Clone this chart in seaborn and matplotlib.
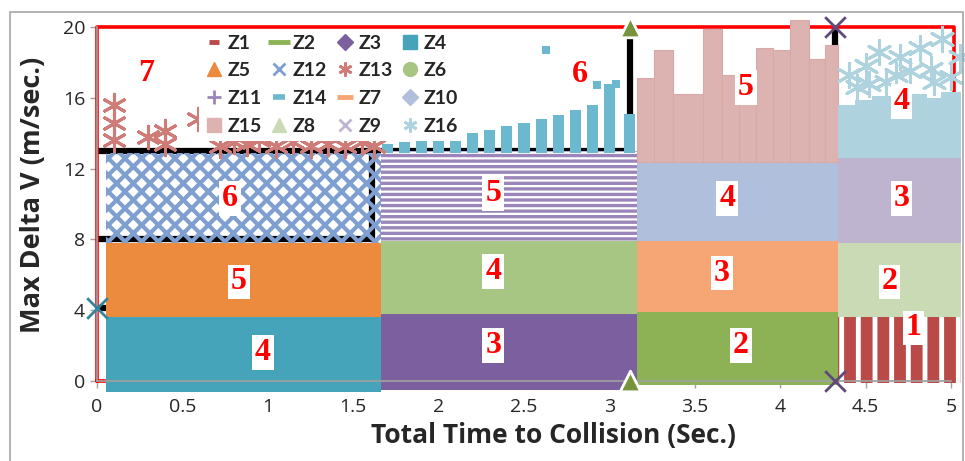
import matplotlib
matplotlib.use("Agg")
import matplotlib.pyplot as plt
from matplotlib.lines import Line2D
from matplotlib.patches import Rectangle
import pandas as pd
import seaborn as sns

# rectangular zones of markers (x from/to, y from/to)
zone_names = ["Z4", "Z5", "Z12", "Z3", "Z6", "Z11", "Z2", "Z7", "Z10", "Z1", "Z8", "Z9"]
zone_x0 = [0.05, 0.05, 0.05, 1.66, 1.66, 1.66, 3.16, 3.16, 3.16, 4.34, 4.34, 4.34]
zone_x1 = [1.66, 1.66, 1.66, 3.16, 3.16, 3.16, 4.34, 4.34, 4.34, 5.06, 5.06, 5.06]
zone_y0 = [-0.6, 3.6, 7.8, -0.5, 3.8, 7.9, -0.2, 3.9, 7.9, -0.1, 3.6, 7.8]
zone_y1 = [3.6, 7.8, 12.9, 3.8, 7.9, 13.0, 3.9, 7.9, 12.4, 3.6, 7.8, 12.6]

# uneven top zones: column left edge and top value
z15_left = [3.16, 3.26, 3.37, 3.55, 3.66, 3.76, 3.86, 3.96, 4.06, 4.17, 4.26]
z15_top = [17.1, 18.7, 16.2, 19.9, 17.3, 17.3, 18.8, 18.7, 20.4, 18.2, 19.0]
z14_x = [1.70, 1.80, 1.90, 2.00, 2.10, 2.20, 2.30, 2.40, 2.50, 2.60, 2.70, 2.80, 2.90, 3.00, 3.12]
z14_top = [13.4, 13.5, 13.6, 13.7, 13.9, 14.0, 14.2, 14.4, 14.6, 14.8, 15.0, 15.3, 15.6, 16.8, 15.1]
z16_left = [4.34, 4.44, 4.54, 4.64, 4.74, 4.84, 4.94]
z16_top = [15.6, 15.9, 16.1, 15.8, 16.2, 16.0, 16.3]

# scattered markers above the zones
z13_x = [0.10, 0.10, 0.10, 0.30, 0.40, 0.40, 0.59, 0.72, 0.80, 0.88, 0.95, 1.05, 1.15, 1.25, 1.35, 1.45, 1.55, 1.62]
z13_y = [15.6, 14.6, 13.6, 13.8, 14.1, 13.4, 14.8, 13.3, 13.5, 13.4, 13.6, 13.3, 13.5, 13.3, 13.4, 13.3, 13.5, 13.3]
z16_x = [4.40, 4.45, 4.50, 4.58, 4.62, 4.70, 4.76, 4.82, 4.88, 4.95, 5.00, 5.05, 4.52, 4.68, 4.90]
z16_y = [17.3, 16.6, 17.8, 18.6, 16.9, 18.3, 17.5, 18.8, 17.6, 19.3, 17.2, 18.3, 16.8, 17.3, 16.9]
z14_out_x = [2.63, 2.93, 3.04]
z14_out_y = [18.7, 16.7, 16.8]
corner_names = ["Z8", "Z8", "Z9", "Z9", "Z4"]
corner_x = [3.12, 3.12, 4.32, 4.32, 0.0]
corner_y = [20.0, 0.0, 20.0, 0.0, 4.1]

# black boundary lines
black_lines = [
    ([0.0, 1.61, 1.61], [13.0, 13.0, 8.0]),
    ([0.0, 1.61], [8.0, 8.0]),
    ([0.0, 0.06], [4.1, 4.1]),
    ([1.61, 3.12, 3.12], [13.0, 13.0, 20.0]),
    ([4.32, 4.32], [17.3, 20.0]),
]
red_x = [0.0, 0.0, 5.02, 5.02, 0.0]
red_y = [0.0, 20.0, 20.0, 0.0, 0.0]

labels = [("7", 0.29, 17.4), ("6", 0.78, 10.3), ("5", 0.83, 5.6), ("4", 0.97, 1.6),
          ("6", 2.83, 17.3), ("5", 2.32, 10.6), ("4", 2.32, 6.2), ("3", 2.32, 2.0),
          ("5", 3.80, 16.6), ("4", 3.69, 10.3), ("3", 3.66, 6.1), ("2", 3.77, 2.0),
          ("4", 4.71, 15.8), ("3", 4.71, 10.3), ("2", 4.64, 5.6), ("1", 4.78, 3.0)]

colors = {
    "Z1": "#B94A48", "Z2": "#8DB255", "Z3": "#7C5F9F", "Z4": "#45A3BA",
    "Z5": "#EC8B3E", "Z12": "#7E9FD0", "Z13": "#CF7C79", "Z6": "#A8C683",
    "Z11": "#9A86BA", "Z14": "#6CB8CE", "Z7": "#F6A674", "Z10": "#AFBFDC",
    "Z15": "#DDB3B2", "Z8": "#C9DAB5", "Z9": "#BEB4D0", "Z16": "#AED3DE",
}
marker_colors = {"Z8": "#77933C", "Z9": "#604A7B", "Z4": "#31859C"}

sns.set_theme(style="white")
plt.rcParams["font.family"] = ["Open Sans", "DejaVu Sans"]
plt.rcParams["hatch.linewidth"] = 3.5

fig = plt.figure(figsize=(9.65, 4.61), dpi=100)
ax = fig.add_axes([97 / 965, 80 / 461, 854 / 965, 354 / 461])

for bx, by in black_lines:
    ax.plot(bx, by, color="black", lw=4.5, zorder=1.5, clip_on=False, solid_capstyle="butt")
ax.plot(red_x, red_y, color="#FF0000", lw=2.6, zorder=1.6, clip_on=False)

# hatch pattern, hatch colour, hatch width
hatches = {"Z1": ("|", "white", 3.5), "Z12": ("xx", None, 3.0), "Z11": ("---", "white", 1.6)}
for name, x0, x1, y0, y1 in zip(zone_names, zone_x0, zone_x1, zone_y0, zone_y1):
    face = colors[name]
    edge = face
    hatch = None
    if name in hatches:
        hatch, hcol, hlw = hatches[name]
        if name == "Z12":
            face, edge = "none", colors[name]
        else:
            edge = hcol
    bars = ax.bar(x0, y1 - y0, bottom=y0, width=x1 - x0, align="edge", color=face,
                  edgecolor=edge, hatch=hatch, linewidth=0, zorder=2, clip_on=False)
    if hatch and hasattr(bars[0], "set_hatch_linewidth"):
        bars[0].set_hatch_linewidth(hlw)

ax.bar(z15_left[:-1], [t - 12.4 for t in z15_top[:-1]], bottom=12.4,
       width=[b - a for a, b in zip(z15_left[:-1], z15_left[1:])], align="edge",
       color=colors["Z15"], edgecolor="#D9A9A8", linewidth=0.8, zorder=2, clip_on=False)
ax.bar(z15_left[-1], z15_top[-1] - 12.4, bottom=12.4, width=0.08, align="edge",
       color=colors["Z15"], edgecolor="#D9A9A8", linewidth=0.8, zorder=2, clip_on=False)
ax.bar(z14_x, [t - 12.9 for t in z14_top], bottom=12.9, width=0.065,
       color=colors["Z14"], linewidth=0, zorder=2, clip_on=False)
ax.bar(z16_left, [t - 12.6 for t in z16_top], bottom=12.6, width=0.12, align="edge",
       color=colors["Z16"], linewidth=0, zorder=2, clip_on=False)

sns.scatterplot(x=z13_x, y=z13_y, marker=(6, 2, 0), s=260, color=colors["Z13"],
                linewidth=2.2, ax=ax, zorder=3, clip_on=False)
sns.scatterplot(x=z16_x, y=z16_y, marker=(6, 2, 0), s=300, color=colors["Z16"],
                linewidth=2.2, ax=ax, zorder=3, clip_on=False)
sns.scatterplot(x=z14_out_x, y=z14_out_y, marker="s", s=40, color=colors["Z14"],
                linewidth=0, ax=ax, zorder=3, clip_on=False)
corner_df = pd.DataFrame({"name": corner_names, "x": corner_x, "y": corner_y})
for name, mk, sz in [("Z8", "^", 220), ("Z9", "x", 220), ("Z4", "x", 220)]:
    sub = corner_df[corner_df["name"] == name]
    sns.scatterplot(data=sub, x="x", y="y", marker=mk, s=sz, color=marker_colors[name],
                    linewidth=2, ax=ax, zorder=3.5, clip_on=False)

for txt, lx, ly in labels:
    ax.text(lx, ly, txt, color="#FF0000", fontsize=23, fontweight="bold",
            family="Liberation Serif", ha="center", va="center", zorder=5,
            bbox=dict(facecolor="white", edgecolor="none", pad=2))

# legend, row-major order as in the picture
spec = {
    "Z1": dict(marker="_", ms=7, mew=3.5), "Z2": dict(marker="_", ms=16, mew=3.5),
    "Z3": dict(marker="D", ms=8), "Z4": dict(marker="s", ms=10),
    "Z5": dict(marker="^", ms=10), "Z12": dict(marker="x", ms=9, mew=2),
    "Z13": dict(marker=(6, 2, 0), ms=10, mew=2), "Z6": dict(marker="o", ms=10),
    "Z11": dict(marker="+", ms=10, mew=2), "Z14": dict(marker="_", ms=8, mew=4),
    "Z7": dict(marker="_", ms=12, mew=3.5), "Z10": dict(marker="D", ms=8),
    "Z15": dict(marker="s", ms=10), "Z8": dict(marker="^", ms=10),
    "Z9": dict(marker="x", ms=9, mew=2), "Z16": dict(marker=(6, 2, 0), ms=10, mew=2),
}
rows = [["Z1", "Z2", "Z3", "Z4"], ["Z5", "Z12", "Z13", "Z6"],
        ["Z11", "Z14", "Z7", "Z10"], ["Z15", "Z8", "Z9", "Z16"]]
order = [rows[r][c] for c in range(4) for r in range(4)]
handles = [Line2D([], [], linestyle="none", color=colors[n], markeredgecolor=colors[n],
                  **spec[n]) for n in order]
leg = ax.legend(handles, order, ncol=4, loc="upper left", bbox_to_anchor=(0.12, 0.995),
                frameon=True, facecolor="white", edgecolor="none", framealpha=1,
                prop={"family": "Lato", "weight": "bold", "size": 14}, handlelength=0.9,
                handletextpad=0.25, columnspacing=0.45, labelspacing=0.55,
                borderpad=0.3, borderaxespad=0)
leg.set_zorder(6)

ax.set_xlim(0, 5)
ax.set_ylim(0, 20)
ax.set_xticks([0, 0.5, 1, 1.5, 2, 2.5, 3, 3.5, 4, 4.5, 5])
ax.set_xticklabels(["0", "0.5", "1", "1.5", "2", "2.5", "3", "3.5", "4", "4.5", "5"])
ax.set_yticks([0, 4, 8, 12, 16, 20])
ax.tick_params(axis="both", labelsize=14, direction="out", length=5, width=1,
               color="#A0A0A0", bottom=True, left=True)
ax.tick_params(axis="x", pad=7)
for side in ["top", "right"]:
    ax.spines[side].set_visible(False)
for side in ["left", "bottom"]:
    ax.spines[side].set_color("#A0A0A0")
ax.set_xlabel("Total Time to Collision (Sec.)", fontsize=19, fontweight="bold")
ax.set_ylabel("Max Delta V (m/sec.)", fontsize=19.5, fontweight="bold")
ax.xaxis.set_label_coords(0.534, -0.115)
ax.yaxis.set_label_coords(-0.06, 0.525)

fig.add_artist(Rectangle((10 / 965, -0.05), 953 / 965, (461 - 12) / 461 + 0.05,
                         transform=fig.transFigure, fill=False, edgecolor="#A6A6A6", lw=1.2))

fig.savefig("out.png", dpi=100)
